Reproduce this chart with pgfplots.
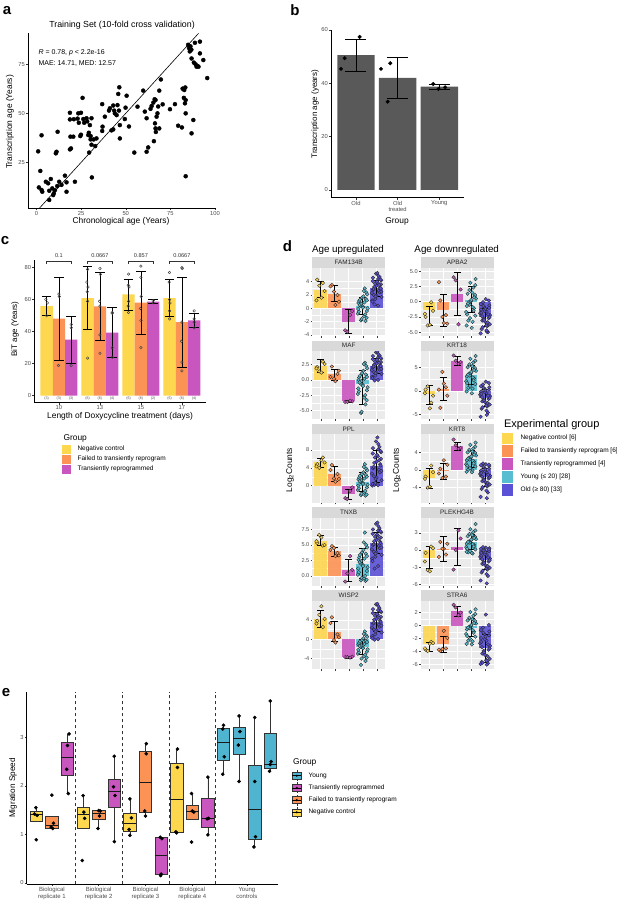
\documentclass[border=0pt]{standalone}
\usepackage{fontspec}
\setmainfont{Liberation Sans}
\usepackage{pgfplots}
\usepackage{pgfplotstable}
\pgfplotsset{compat=1.18}
\usepgfplotslibrary{statistics}

\definecolor{cY}{HTML}{FDD74E}
\definecolor{cO}{HTML}{FB9355}
\definecolor{cP}{HTML}{C955BE}
\definecolor{cC}{HTML}{58BDD1}
\definecolor{cB}{HTML}{5B51D6}
\definecolor{eC}{HTML}{4FB4CF}
\definecolor{barg}{HTML}{595959}
\definecolor{gbg}{HTML}{EBEBEB}
\definecolor{stripc}{HTML}{D9D9D9}

\newcommand{\tkf}{\fontsize{5.8}{6.5}\selectfont}
\newcommand{\axf}{\fontsize{8.4}{10}\selectfont}
\newcommand{\lgf}{\fontsize{6.5}{8}\selectfont}
\newcommand{\pf}{\bfseries\fontsize{15}{18}\selectfont}

% panel d: bar heights per group (one row), columns = genes
\pgfplotstableread{
fam apba maf krta ppl krtb tnxb plek wisp stra
2.8 -1.4 2.2 -0.6 5.4 -1.9 5.7 -1.4 4.2 -2.8
}\bY
\pgfplotstableread{
fam apba maf krta ppl krtb tnxb plek wisp stra
2.2 -1.3 0.9 0.4 2.5 -0.2 4.0 0.15 1.4 -2.9
}\bO
\pgfplotstableread{
fam apba maf krta ppl krtb tnxb plek wisp stra
-2.0 1.3 -3.5 6.4 -1.85 5.5 0.9 0.5 -3.7 2.3
}\bP
\pgfplotstableread{
fam apba maf krta ppl krtb tnxb plek wisp stra
0.3 0.2 -0.6 3.5 0.8 2.6 2.0 1.4 -1.6 -0.3
}\bC
\pgfplotstableread{
fam apba maf krta ppl krtb tnxb plek wisp stra
3.0 -2.5 2.3 -1.5 4.5 -1.7 5.3 -1.8 3.6 -3.5
}\bB

% error bars: centre and half-length
\pgfplotstableread{
x fam famh apba apbah maf mafh krta krtah ppl pplh krtb krtbh tnxb tnxbh plek plekh wisp wisph stra strah
1 2.85 1.15 -2.35 1.55 2.25 1.05 -0.75 2.05 5.2 1.0 -1.85 2.35 5.75 0.75 -1.25 1.95 4.25 1.75 -3.25 0.65
2 2.2 1.2 -1.45 2.65 0.85 0.95 0.5 2.4 2.65 1.65 -0.25 1.75 3.95 0.75 0.2 2.2 1.55 2.05 -2.85 1.25
3 -1.95 1.75 1.3 3.5 -3.55 0.15 6.5 1.0 -1.9 1.1 5.45 0.95 0.95 1.75 0.55 3.25 -3.7 0.2 2.25 0.75
4 0.4 1.3 0.4 2.2 -1.2 2.8 3.5 2.0 0.8 2.1 2.6 1.9 2.1 2.4 1.45 1.35 -1.6 1.6 -0.3 1.4
5 3.0 1.2 -2.5 1.5 2.3 1.2 -1.5 1.8 4.4 3.6 -1.7 2.0 5.3 1.7 -1.8 1.6 3.6 2.0 -3.5 2.2
}\eT

% samples: jitter and log2 counts per gene
\pgfplotstableread{
j fam apba maf krta ppl krtb tnxb plek wisp stra
-0.25 4.3 -2.5 2.1 0.3 4.8 -1.5 5.3 -0.5 3.8 -3.7
0.15 3.8 -0.1 3.0 -2.5 6.3 1.0 4.9 0.6 2.5 -2.5
-0.10 3.4 -3.9 1.4 1.0 4.0 -4.0 6.6 -3.5 5.0 -3.9
0.28 2.6 -1.5 2.6 -1.0 5.2 -0.5 5.0 0.3 4.2 -2.7
0.05 1.6 -3.8 1.2 -3.7 5.7 -3.8 6.2 -3.7 6.8 -2.8
-0.30 1.2 -2.0 1.9 -0.5 4.3 -2.0 5.6 -2.0 3.2 -3.5
}\tY
\pgfplotstableread{
j fam apba maf krta ppl krtb tnxb plek wisp stra
0.20 2.0 -2.2 1.0 0.8 2.6 -1.5 3.7 -0.8 1.0 -3.5
-0.20 3.5 0.2 2.2 -3.6 4.6 0.3 4.8 1.4 4.5 -3.9
0.05 0.5 -3.5 -0.2 1.6 0.9 2.2 3.2 0.2 -0.7 -0.8
-0.30 3.3 3.2 0.5 0.3 3.5 -0.8 4.2 -1.2 3.3 -3.7
0.30 1.0 -3.6 1.5 -1.0 1.5 1.2 3.3 1.1 0.4 -1.9
-0.05 2.5 -2.5 0.2 4.1 1.6 -1.8 4.5 0.2 -0.2 -3.6
}\tO
\pgfplotstableread{
j fam apba maf krta ppl krtb tnxb plek wisp stra
0.25 -0.4 2.0 -3.5 6.2 -0.4 5.0 1.0 2.0 -3.6 2.0
-0.25 -3.3 4.0 -3.6 7.6 -2.8 6.9 -0.9 -3.4 -3.7 3.2
0.10 -1.0 -3.7 -3.4 5.8 -1.2 4.8 3.2 3.4 -3.8 1.6
-0.10 -3.5 3.5 -3.6 6.5 -3.0 5.6 0.4 0.0 -3.7 2.8
}\tP
\pgfplotstableread{
j fam apba maf krta ppl krtb tnxb plek wisp stra
-0.30 0.8 -0.7 0.0 3.1 1.4 2.2 2.6 1.1 -1.1 -0.6
0.10 -1.2 -3.3 -2.9 0.5 -1.6 -0.1 -0.4 -0.6 -3.5 -2.4
0.25 2.4 0.9 2.3 4.7 3.8 3.7 5.0 2.2 0.8 0.5
-0.15 0.4 -0.1 -0.6 3.7 0.8 2.8 2.0 1.5 -1.6 -0.2
0.30 -0.4 -2.3 -1.7 1.5 -0.4 0.8 0.8 0.1 -2.6 -1.7
-0.05 1.6 3.1 1.1 6.9 2.6 5.7 3.8 3.6 -0.2 2.1
0.20 -1.9 -1.1 -4.0 2.7 -2.2 1.9 -0.8 0.9 -4.5 -0.9
-0.25 1.1 1.3 0.4 5.1 1.8 4.0 3.0 2.4 -0.8 0.8
0.05 1.8 -4.3 1.5 -0.5 3.0 -0.5 4.2 -0.5 0.2 -2.9
0.35 0.0 0.5 -1.2 4.3 0.2 3.3 1.4 1.9 -2.1 0.3
-0.35 -0.8 -1.7 -2.3 2.1 -1.0 1.3 0.2 0.5 -3.0 -1.3
0.15 3.0 2.3 2.8 6.1 4.8 4.9 7.0 3.1 1.6 1.5
-0.10 0.7 -0.5 -0.2 3.3 1.2 2.4 2.4 1.3 -1.3 -0.4
0.28 -1.4 1.1 -3.3 4.9 -2.0 3.9 -0.6 2.3 -3.8 0.7
-0.20 1.3 -3.1 0.7 0.7 2.2 0.1 3.4 -0.4 -0.5 -2.3
0.00 0.3 0.1 -0.8 3.9 0.6 3.0 1.8 1.7 -1.8 0.0
0.32 2.1 3.7 1.9 7.5 3.4 6.2 4.6 4.5 0.5 2.5
-0.28 -0.5 -2.1 -1.9 1.7 -0.6 1.0 0.6 0.2 -2.7 -1.6
0.12 0.9 -0.9 0.2 2.9 1.6 2.1 2.8 1.0 -1.0 -0.7
-0.12 -1.8 1.9 -5.4 5.7 -2.1 4.6 -0.7 2.8 -5.3 1.2
0.22 1.4 0.7 0.9 4.5 2.4 3.5 3.6 2.1 -0.3 0.4
-0.32 -0.1 -3.9 -1.4 -0.1 0.0 -0.4 1.2 -0.3 -2.2 -2.8
0.08 2.6 1.5 2.6 5.3 4.2 4.2 5.4 2.6 1.1 1.0
0.18 -0.9 -1.5 -2.5 2.3 -1.2 1.5 0.0 0.6 -3.2 -1.1
-0.22 0.5 -0.3 -0.4 3.5 1.0 2.6 2.2 1.4 -1.4 -0.3
0.30 1.2 2.7 0.5 6.5 2.0 5.3 3.2 3.4 -0.6 1.8
-0.08 -1.6 -2.7 -5.2 1.1 -1.8 0.4 -0.3 -0.2 -4.0 -2.0
0.02 0.1 0.3 -1.0 4.1 0.4 3.1 1.6 1.8 -1.9 0.1
}\tC
\pgfplotstableread{
j fam apba maf krta ppl krtb tnxb plek wisp stra
0.30 3.6 -0.6 2.9 0.8 6.0 0.9 6.2 0.3 4.6 -0.9
-0.20 2.0 -3.1 1.3 -2.2 2.1 -2.5 3.9 -2.4 2.0 -4.3
0.10 4.4 -1.6 3.7 -0.4 8.1 -0.5 7.3 -0.8 6.0 -2.3
-0.32 1.2 -5.2 0.5 -5.5 0.0 -6.1 2.8 -5.3 0.6 -5.9
0.25 3.1 -2.7 2.4 -1.7 4.8 -1.9 5.5 -2.0 3.8 -3.7
-0.05 5.2 -0.9 4.5 0.5 9.9 0.5 8.4 0.0 7.2 -1.3
0.15 2.6 -4.0 1.9 -3.3 3.6 -3.7 4.8 -3.4 3.0 -5.5
-0.28 4.1 -1.3 3.4 -0.1 7.2 -0.1 6.8 -0.5 5.4 -1.9
0.35 1.7 -2.2 1.0 -1.1 1.2 -1.3 3.4 -1.5 1.4 -3.1
0.00 3.4 -3.3 2.7 -2.4 5.4 -2.7 5.8 -2.6 4.2 -4.5
-0.15 0.6 -0.1 -0.1 1.4 0.2 1.5 1.2 0.5 -0.1 -0.3
0.20 4.7 -5.0 4.0 -4.6 8.7 -5.1 7.7 -4.5 6.4 -5.8
-0.35 2.3 -1.9 1.6 -0.8 2.7 -0.9 4.3 -1.2 2.4 -2.7
0.08 3.8 -3.9 3.1 -3.1 6.6 -3.5 6.5 -3.2 5.0 -5.3
0.28 3.0 -1.0 2.3 0.3 4.5 0.3 5.3 -0.2 3.6 -1.5
-0.10 1.4 -2.8 0.7 -1.9 0.6 -2.1 3.1 -2.1 1.0 -3.9
0.05 5.3 0.4 4.6 2.0 10.8 1.3 8.6 0.4 7.3 1.7
-0.25 2.8 -4.5 2.1 -3.8 3.9 -4.3 5.0 -3.9 3.2 -5.6
0.32 4.2 -2.5 3.5 -1.5 7.5 -1.7 7.0 -1.8 5.6 -3.5
-0.02 1.9 -1.5 1.2 -0.2 1.8 -0.3 3.8 -0.7 1.8 -2.1
0.18 3.5 -3.4 2.8 -2.6 5.7 -2.9 6.0 -2.8 4.4 -4.7
-0.30 1.0 -0.4 0.3 1.0 0.4 1.1 2.4 0.2 0.2 -0.7
0.12 4.9 -4.9 4.2 -5.1 9.3 -6.4 8.0 -5.8 6.8 -6.0
0.22 2.4 -2.1 1.7 -1.0 3.0 -1.1 4.5 -1.3 2.6 -2.9
-0.18 3.2 -4.2 2.5 -3.5 5.1 -3.9 5.6 -3.6 4.0 -5.7
0.02 4.0 -1.2 3.3 0.1 6.9 0.1 6.7 -0.4 5.2 -1.7
-0.08 1.8 -3.0 1.1 -2.0 1.5 -2.3 3.6 -2.3 1.6 -4.1
0.27 4.3 0.2 3.6 1.7 7.8 1.2 7.2 0.1 5.8 0.1
-0.22 2.9 -2.4 2.2 -1.3 4.2 -1.5 5.1 -1.6 3.4 -3.3
0.10 0.4 -4.7 0.0 -4.2 0.1 -4.7 1.6 -4.2 0.0 -5.4
-0.12 3.7 -0.7 3.0 0.7 6.3 0.7 6.3 -0.1 4.8 -1.1
0.33 2.5 -3.7 1.8 -2.9 3.3 -3.3 4.6 -3.1 2.8 -5.1
-0.27 4.6 -1.8 3.9 -0.6 8.4 -0.7 7.5 -1.0 6.2 -2.5
}\tB

\pgfplotsset{
  classic/.style={scale only axis, anchor=north west, axis lines=left,
    axis line style={-, line width=0.45pt, black},
    tick align=outside, major tick length=2pt, tick style={line width=0.45pt, black!80},
    tick label style={font=\tkf, text=black!70, inner sep=1pt},
    /pgf/number format/assume math mode=true},
  dpanel/.style={scale only axis, anchor=north west, width=72.8pt, height=68.3pt,
    xmin=0.4, xmax=5.6, xtick={1,2,3,4,5}, xticklabels={},
    axis background/.style={fill=gbg}, axis line style={draw=none},
    grid=both, major grid style={white, line width=0.55pt}, minor grid style={white, line width=0.3pt},
    minor y tick num=1, tick pos=left, tick align=outside,
    major tick length=1.8pt, minor tick length=0pt, tick style={black!75, line width=0.4pt},
    tick label style={font=\fontsize{5.6}{6.5}\selectfont, text=black!70, inner sep=1pt}},
  dbar/.style={ybar, bar width=0.9, bar shift=0pt, draw=none, fill=#1, fill opacity=0.9},
  dpt/.style={only marks, mark=*, mark size=1.8pt, mark options={draw=black!85, line width=0.35pt, fill=#1}},
  derr/.style={draw=none, forget plot, mark=none, error bars/.cd, y dir=both, y explicit,
    error bar style={draw=black, line width=0.5pt},
    error mark options={rotate=90, draw=black, line width=0.5pt, mark size=#1}},
  derr/.default=3.6pt,
  cbar/.style={ybar, bar width=0.3, bar shift=0pt, draw=none, fill=#1},
  cpt/.style={only marks, mark=o, mark size=1.3pt, mark options={draw=black!75, line width=0.45pt}},
}

\newcommand{\dfacet}[5]{%
\begin{axis}[dpanel, at={(#1pt,#2pt)}, #4]
\addplot[dbar=cY] table[x expr=1, y=#3]{\bY};
\addplot[dbar=cO] table[x expr=2, y=#3]{\bO};
\addplot[dbar=cP] table[x expr=3, y=#3]{\bP};
\addplot[dbar=cC] table[x expr=4, y=#3]{\bC};
\addplot[dbar=cB] table[x expr=5, y=#3]{\bB};
\addplot[dpt=cY] table[x expr=1+\thisrow{j}, y=#3]{\tY};
\addplot[dpt=cO] table[x expr=2+\thisrow{j}, y=#3]{\tO};
\addplot[dpt=cP] table[x expr=3+\thisrow{j}, y=#3]{\tP};
\addplot[dpt=cC] table[x expr=4+\thisrow{j}, y=#3]{\tC};
\addplot[dpt=cB] table[x expr=5+\thisrow{j}, y=#3]{\tB};
\addplot[derr] table[x=x, y=#3, y error=#3h]{\eT};
\end{axis}
\fill[stripc] (#1pt,#2pt) rectangle ++(72.8pt,10.5pt);
\node[font=\fontsize{6.4}{7}\selectfont, text=black!85] at (#1pt,#2pt) [xshift=36.4pt, yshift=5.25pt] {#5};
}

\newcommand{\bx}[7]{\addplot[fill=#7, draw=black!80, line width=0.5pt,
  boxplot prepared={draw direction=y, draw position=#1, lower whisker=#2, lower quartile=#3, median=#4,
  upper quartile=#5, upper whisker=#6, box extend=0.8, whisker extend=0,
  every median/.style={line width=1.1pt, draw=black!90}}] coordinates {};}

\newcommand{\bkey}[2]{\begin{scope}[shift={(296.8pt,#1pt)}]
\draw[black!80, line width=0.4pt] (0,3.5pt) -- (0,5.5pt) (0,-3.5pt) -- (0,-5.5pt);
\draw[fill=#2, draw=black!80, line width=0.4pt] (-4.5pt,-3.5pt) rectangle (4.5pt,3.5pt);
\draw[black, line width=0.8pt] (-4.5pt,0) -- (4.5pt,0);
\fill[black] (0,0) circle (1.2pt);
\end{scope}}

\begin{document}
\begin{tikzpicture}
\useasboundingbox (0,0) rectangle (617pt,-902pt);

% ---------------- a ----------------
\begin{axis}[classic, at={(28pt,-33.4pt)}, width=187.8pt, height=174.6pt,
  xmin=-4.8, xmax=100.5, ymin=1.7, ymax=90.8,
  xtick={0,25,50,75,100}, ytick={25,50,75}]
\addplot[black, line width=0.6pt] coordinates {(1.7,1.7) (90.8,90.8)};
\addplot[only marks, mark=*, mark size=2pt, black] coordinates {
(0.9,30.6)(1.3,12.2)(2.1,20.6)(2.8,10.9)(3.2,10.0)(2.8,38.8)(5.2,15.1)(6.5,14.3)(7.1,10.5)(7.1,5.8)
(8.0,16.5)(8.8,11.7)(9.3,8.3)(9.7,9.2)(10.3,10.8)(10.8,29.6)(11.2,30.4)(11.8,40.6)(11.6,12.9)(12.7,15.1)
(14.0,13.5)(15.9,18.2)(16.8,14.8)(16.8,10.0)(18.7,31.6)(19.3,32.1)(18.7,50.3)(18.7,46.9)(19.0,38.1)(20.6,38.1)
(20.9,47.0)(21.5,15.1)(23.0,47.3)(23.4,50.0)(23.7,45.2)(24.5,38.4)(24.9,39.1)(24.9,50.3)(25.8,57.9)(26.2,47.1)
(26.7,45.2)(28.0,47.5)(28.4,45.9)(29.0,38.9)(29.3,40.1)(29.5,30.0)(29.9,44.0)(30.3,38.4)(30.3,36.7)(30.8,47.5)
(30.8,34.0)(31.0,17.3)(32.0,36.7)(32.9,33.3)(33.6,37.2)(36.8,41.0)(37.0,43.2)(36.8,54.7)(38.3,48.3)(40.6,51.4)
(41.1,52.6)(42.0,41.3)(43.0,41.8)(43.0,54.0)(43.5,51.4)(43.9,50.0)(44.9,49.1)(45.4,54.2)(46.2,51.4)(45.8,59.9)
(46.4,63.3)(46.7,44.0)(46.7,37.2)(49.5,47.1)(49.9,52.9)(50.5,59.0)(51.8,43.3)(54.8,30.0)(56.6,53.4)(59.8,61.6)
(60.7,50.9)(61.7,47.5)(61.7,30.4)(62.6,32.6)(63.9,52.3)(64.5,53.7)(65.5,55.5)(66.2,57.2)(65.8,35.8)(66.4,44.9)
(66.7,42.3)(66.9,40.5)(66.7,56.8)(67.3,48.3)(67.8,50.0)(68.2,53.5)(68.8,61.6)(68.8,42.3)(69.7,67.3)(70.7,54.6)
(74.8,52.1)(77.6,54.7)(79.4,43.7)(81.5,42.8)(81.9,62.6)(82.8,61.9)(83.4,63.2)(82.6,57.9)(83.6,56.8)(83.2,55.1)
(83.6,50.0)(83.6,17.9)(85.0,85.0)(85.5,83.3)(85.9,81.6)(86.8,82.5)(86.3,84.2)(86.9,78.0)(86.9,39.8)(87.9,46.6)
(88.2,75.9)(89.2,75.0)(89.7,73.8)(90.3,74.1)(90.8,73.8)(88.8,86.0)(91.6,86.6)(91.6,80.6)(93.5,77.2)(95.7,68.0)
};
\end{axis}
\node[font=\fontsize{8.8}{10}\selectfont] at (122pt,-25pt) {Training Set (10-fold cross validation)};
\node[font=\fontsize{7}{8}\selectfont, anchor=west] at (35pt,-52.7pt) {\textit{R} = 0.78, \textit{p} < 2.2e-16};
\node[font=\fontsize{7}{8}\selectfont, anchor=west] at (35pt,-63.3pt) {MAE: 14.71, MED: 12.57};
\node[font=\axf] at (121pt,-221.5pt) {Chronological age (Years)};
\node[font=\axf, rotate=90] at (10pt,-122pt) {Transcription age (Years)};
\node[font=\pf] at (7pt,-11pt) {a};

% ---------------- b ----------------
\begin{axis}[classic, at={(331pt,-29.7pt)}, width=133.3pt, height=168pt,
  xmin=0.4, xmax=3.6, ymin=-2.9, ymax=60.1, xtick={1,2,3},
  xticklabels={Old,{Old\\treated},Young}, xticklabel style={align=center},
  ytick={0,20,40,60}]
\addplot[ybar, bar width=0.9, bar shift=0pt, fill=barg, draw=none] coordinates {(1,50.6) (2,42.0) (3,38.75)};
\addplot[only marks, mark=*, mark size=1.8pt, black] coordinates {
(1.088,57.4)(0.728,49.4)(0.64,45.4)(1.823,47.5)(1.6,45.4)(1.76,33.1)(2.854,39.75)(2.98,37.9)(3.14,38.5)};
\addplot[derr=10.5pt] coordinates {(1,50.6) +- (0,6.0) (2,42.08) +- (0,7.83) (3,38.75) +- (0,1.0)};
\end{axis}
\node[font=\fontsize{8}{9}\selectfont, rotate=90] at (315pt,-114pt) {Transcription age (years)};
\node[font=\axf] at (397pt,-221pt) {Group};
\node[font=\pf] at (295pt,-10pt) {b};

% ---------------- c ----------------
\begin{axis}[classic, at={(34.3pt,-259.7pt)}, width=172.2pt, height=143pt,
  xmin=0.4, xmax=4.6, ymin=-4.4, ymax=85, xtick={1,2,3,4}, xticklabels={10,13,15,17},
  ytick={0,20,40,60,80}, clip=false]
\addplot[cbar=cY] coordinates {(0.7,56) (1.7,61) (2.7,63.3) (3.7,61)};
\addplot[cbar=cO] coordinates {(1,48.1) (2,55.8) (3,58.1) (4,46)};
\addplot[cbar=cP] coordinates {(1.3,35) (2.3,39.4) (3.3,58.75) (4.3,47.1)};
\addplot[cpt] coordinates {(0.68,60.2)(0.72,58)(0.70,50)
 (1.70,79)(1.68,71)(1.71,68)(1.69,65)(1.70,59)(1.70,23.5)
 (2.70,76)(2.69,69)(2.71,68)(2.70,59)(2.69,56)(2.70,52)
 (3.70,77)(3.69,71)(3.70,60)(3.71,58)(3.70,53)(3.70,48)};
\addplot[cpt] coordinates {(1.0,63.5)(1.01,62)(0.99,18.8)
 (2.0,79.5)(2.01,75.8)(1.99,59)(2.0,56)(2.0,38)(2.0,26.5)
 (3.0,81)(3.0,74)(3.01,62)(2.99,54.5)(3.0,47)(3.0,30)
 (4.0,80)(4.01,79.5)(4.0,46)(3.99,34)(4.0,21)(4.0,15.5)};
\addplot[cpt] coordinates {(1.3,44.5)(1.3,42.5)(1.3,18.8)
 (2.3,52)(2.3,51.5)(2.3,30)(2.3,24) (3.3,59.5)(3.3,58)
 (4.3,53)(4.3,48)(4.3,46)(4.3,42.5)};
\addplot[derr=4.8pt] coordinates {(0.7,56.15) +- (0,5.95) (1.7,61.25) +- (0,19.75) (2.7,63) +- (0,9.7) (3.7,61) +- (0,11.5)
 (1,48.15) +- (0,25.85) (2,55.75) +- (0,21.35) (3,58.1) +- (0,19.4) (4,45.75) +- (0,28.25)
 (1.3,35) +- (0,14.8) (2.3,39.5) +- (0,15.5) (3.3,59) +- (0,1.0) (4.3,47) +- (0,4.5)};
\foreach \g/\p in {1/0.1, 2/0.0667, 3/0.857, 4/0.0667}{
  \edef\tmp{\noexpand\draw[black!80, line width=0.4pt] (axis cs:\g-0.3,82.6) -- (axis cs:\g-0.3,84.2) -- (axis cs:\g+0.3,84.2) -- (axis cs:\g+0.3,82.6);
  \noexpand\node[font=\noexpand\fontsize{5.6}{6}\noexpand\selectfont, text=black!80] at (axis cs:\g,87.6) {\p};}\tmp}
\foreach \x/\n in {0.7/3,1/3,1.3/3,1.7/6,2/6,2.3/4,2.7/6,3/6,3.3/2,3.7/6,4/6,4.3/4}{
  \edef\tmp{\noexpand\node[font=\noexpand\fontsize{3.6}{4}\noexpand\selectfont, text=black!70] at (axis cs:\x,-1.9) {(\n)};}\tmp}
\end{axis}
\node[font=\fontsize{8}{9}\selectfont, rotate=90] at (15pt,-329pt) {BiT age (Years)};
\node[font=\axf] at (120pt,-416.5pt) {Length of Doxycycline treatment (days)};
\node[font=\pf] at (5pt,-241pt) {c};
\node[font=\axf, anchor=west] at (60pt,-438pt) {Group};
\fill[cY] (61.7pt,-444.6pt) rectangle (71pt,-454pt);
\fill[cO] (61.7pt,-454.6pt) rectangle (71pt,-464pt);
\fill[cP] (61.7pt,-464.6pt) rectangle (71pt,-474pt);
\node[font=\lgf, anchor=west] at (74pt,-449.3pt) {Negative control};
\node[font=\lgf, anchor=west] at (74pt,-459.3pt) {Failed to transiently reprogram};
\node[font=\lgf, anchor=west] at (74pt,-469.3pt) {Transiently reprogrammed};

% ---------------- d ----------------
\dfacet{312.3}{-267.7}{fam}{ymin=-4.15, ymax=6.1, ytick={-4,-2,0,2,4}, yticklabels={-4,-2,0,2,4}}{FAM134B}
\dfacet{420.7}{-267.7}{apba}{ymin=-5.63, ymax=5.57, ytick={-5,-2.5,0,2.5,5}, yticklabels={-5.0,-2.5,0.0,2.5,5.0}}{APBA2}
\dfacet{312.3}{-351.0}{maf}{ymin=-6.44, ymax=4.73, ytick={-5,-2.5,0,2.5}, yticklabels={-5.0,-2.5,0.0,2.5}}{MAF}
\dfacet{420.7}{-351.0}{krta}{ymin=-6.06, ymax=8.57, ytick={-5,0,5}, yticklabels={-5,0,5}}{KRT18}
\dfacet{312.3}{-434.3}{ppl}{ymin=-3.8, ymax=11.5, ytick={0,4,8}, yticklabels={0,4,8}}{PPL}
\dfacet{420.7}{-434.3}{krtb}{ymin=-7.4, ymax=8.1, ytick={-4,0,4}, yticklabels={-4,0,4}}{KRT8}
\dfacet{312.3}{-517.6}{tnxb}{ymin=-1.6, ymax=9.4, ytick={0,2.5,5,7.5}, yticklabels={0.0,2.5,5.0,7.5}}{TNXB}
\dfacet{420.7}{-517.6}{plek}{ymin=-6.24, ymax=5.63, ytick={-6,-3,0,3}, yticklabels={-6,-3,0,3}}{PLEKHG4B}
\dfacet{312.3}{-600.9}{wisp}{ymin=-6.2, ymax=7.9, ytick={-4,0,4}, yticklabels={-4,0,4}}{WISP2}
\dfacet{420.7}{-600.9}{stra}{ymin=-6.7, ymax=3.8, ytick={-6,-4,-2,0,2}, yticklabels={-6,-4,-2,0,2}}{STRA6}
\node[font=\fontsize{9.8}{11}\selectfont] at (348pt,-250pt) {Age upregulated};
\node[font=\fontsize{9.8}{11}\selectfont] at (456.7pt,-250pt) {Age downregulated};
\node[font=\axf, rotate=90] at (290pt,-470pt) {Log\textsubscript{2}Counts};
\node[font=\axf, rotate=90] at (396.7pt,-470pt) {Log\textsubscript{2}Counts};
\node[font=\pf] at (287.5pt,-246pt) {d};
\node[font=\fontsize{11}{12}\selectfont, anchor=west] at (500.5pt,-424.3pt) {Experimental group};
\fill[cY] (501.7pt,-432.5pt) rectangle (513.3pt,-444.1pt);
\fill[cO] (501.7pt,-445.4pt) rectangle (513.3pt,-457.0pt);
\fill[cP] (501.7pt,-458.3pt) rectangle (513.3pt,-469.9pt);
\fill[cC] (501.7pt,-471.2pt) rectangle (513.3pt,-482.8pt);
\fill[cB] (501.7pt,-484.1pt) rectangle (513.3pt,-495.7pt);
\node[font=\lgf, anchor=west] at (517pt,-438.3pt) {Negative control [6]};
\node[font=\lgf, anchor=west] at (517pt,-451.2pt) {Failed to transiently reprogram [6]};
\node[font=\lgf, anchor=west] at (517pt,-464.1pt) {Transiently reprogrammed [4]};
\node[font=\lgf, anchor=west] at (517pt,-477.0pt) {Young (≤ 20) [28]};
\node[font=\lgf, anchor=west] at (517pt,-489.9pt) {Old (≥ 80) [33]};

% ---------------- e ----------------
\begin{axis}[classic, at={(26.7pt,-692.2pt)}, width=251.4pt, height=192.1pt,
  xmin=0.385, xmax=16.5, ymin=-0.03, ymax=3.93, ytick={0,1,2,3},
  xtick={2,5,8,11,14.5},
  xticklabels={{Biological\\replicate 1},{Biological\\replicate 2},{Biological\\replicate 3},{Biological\\replicate 4},{Young\\controls}},
  xticklabel style={align=center, font=\fontsize{6}{6.6}\selectfont}]
\addplot[dashed, black!80, line width=0.5pt, forget plot] coordinates {(3.5,-0.03) (3.5,3.93)};
\addplot[dashed, black!80, line width=0.5pt, forget plot] coordinates {(6.5,-0.03) (6.5,3.93)};
\addplot[dashed, black!80, line width=0.5pt, forget plot] coordinates {(9.5,-0.03) (9.5,3.93)};
\addplot[dashed, black!80, line width=0.5pt, forget plot] coordinates {(12.5,-0.03) (12.5,3.93)};
\bx{1}{1.27}{1.27}{1.40}{1.48}{1.55}{cY}
\bx{2}{1.12}{1.13}{1.19}{1.38}{1.38}{cO}
\bx{3}{1.84}{2.21}{2.59}{2.90}{3.07}{cP}
\bx{4}{1.12}{1.12}{1.40}{1.55}{1.80}{cY}
\bx{5}{1.12}{1.32}{1.43}{1.49}{1.49}{cO}
\bx{6}{0.85}{1.56}{1.89}{2.14}{2.61}{cP}
\bx{7}{0.98}{1.07}{1.22}{1.44}{1.73}{cY}
\bx{8}{1.38}{1.46}{2.07}{2.71}{2.87}{cO}
\bx{9}{0.15}{0.18}{0.56}{0.93}{0.95}{cP}
\bx{10}{1.03}{1.05}{1.72}{2.47}{2.76}{cY}
\bx{11}{1.31}{1.31}{1.47}{1.59}{1.84}{cO}
\bx{12}{0.99}{1.15}{1.33}{1.75}{2.18}{cP}
\bx{13}{2.24}{2.52}{2.89}{3.19}{3.25}{eC}
\bx{14}{2.09}{2.65}{2.98}{3.20}{3.44}{eC}
\bx{15}{0.74}{0.90}{1.52}{2.42}{3.41}{eC}
\bx{16}{2.30}{2.37}{2.44}{3.09}{3.75}{eC}
\addplot[only marks, mark=*, mark size=1.6pt, black] coordinates {
(0.97,1.55)(0.88,1.42)(1.05,1.39)(1.0,0.89)
(2.0,1.81)(2.1,1.23)(1.95,1.15)(2.05,1.12)
(3.1,3.07)(3.0,2.83)(2.95,2.34)(3.05,1.84)
(4.0,1.80)(4.05,1.46)(4.1,1.33)(3.95,0.46)
(5.0,1.49)(5.1,1.48)(5.05,1.38)(4.95,1.12)
(6.0,2.61)(5.95,1.98)(6.05,1.80)(6.0,0.85)
(7.0,1.73)(7.1,1.34)(6.95,1.10)(7.0,0.98)
(8.05,2.87)(8.05,2.66)(7.95,1.48)(8.0,1.38)
(8.95,0.94)(9.05,0.91)(9.0,0.18)(8.97,0.15)
(10.05,2.76)(10.05,2.38)(9.95,1.05)(10.0,1.03)
(10.95,1.84)(11.0,1.48)(11.1,1.46)(10.95,0.84)
(12.0,2.18)(12.05,1.33)(11.95,1.32)(12.0,0.99)
(13.0,3.25)(12.95,3.17)(13.05,2.60)(12.95,2.24)
(14.0,3.44)(14.05,3.12)(13.95,2.84)(14.0,2.09)
(15.0,3.41)(15.0,2.09)(15.05,0.95)(14.95,0.74)
(16.0,3.75)(16.0,2.44)(15.95,2.30)(16.05,2.50)};
\end{axis}
\node[font=\fontsize{8.2}{9}\selectfont, rotate=90] at (13pt,-788pt) {Migration Speed};
\node[font=\pf] at (6pt,-693pt) {e};
\node[font=\axf, anchor=west] at (289.5pt,-762.3pt) {Group};
\bkey{-775.7}{eC}
\bkey{-787.9}{cP}
\bkey{-800.1}{cO}
\bkey{-812.3}{cY}
\node[font=\lgf, anchor=west] at (305pt,-775.7pt) {Young};
\node[font=\lgf, anchor=west] at (305pt,-787.9pt) {Transiently reprogrammed};
\node[font=\lgf, anchor=west] at (305pt,-800.1pt) {Failed to transiently reprogram};
\node[font=\lgf, anchor=west] at (305pt,-812.3pt) {Negative control};
\end{tikzpicture}
\end{document}
